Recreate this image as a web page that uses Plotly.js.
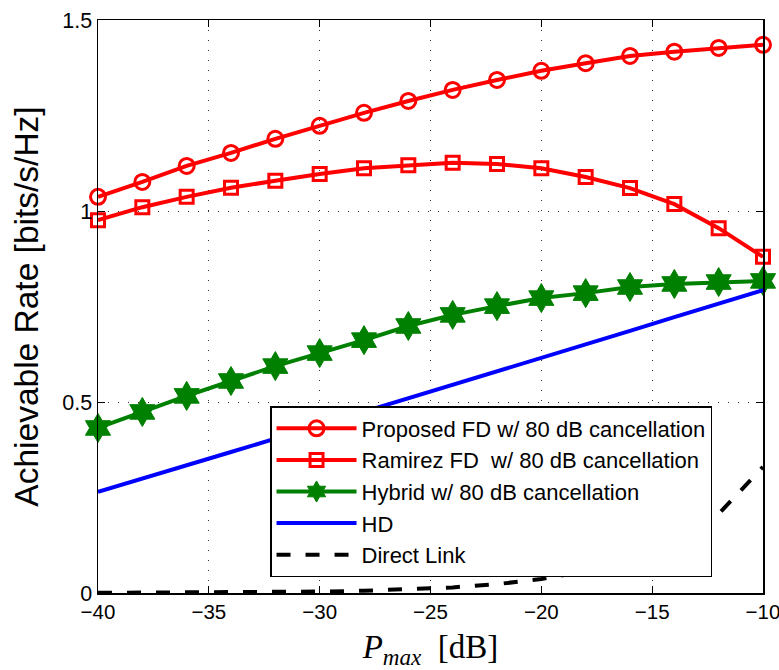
<!DOCTYPE html>
<html>
<head>
<meta charset="utf-8">
<script src="https://cdn.plot.ly/plotly-3.0.1.min.js"></script>
<style>html,body{margin:0;padding:0;background:#fff;}#chart{width:779px;height:670px;}</style>
</head>
<body>
<div id="chart"></div>
<script>
const pmax = [-40,-38,-36,-34,-32,-30,-28,-26,-24,-22,-20,-18,-16,-14,-12,-10];
const proposedFD = [1.037,1.076,1.118,1.152,1.189,1.223,1.257,1.288,1.317,1.343,1.367,1.387,1.406,1.417,1.427,1.435];
const ramirezFD = [0.976,1.010,1.037,1.061,1.079,1.097,1.112,1.120,1.126,1.123,1.112,1.089,1.060,1.018,0.955,0.880];
const hybrid = [0.432,0.474,0.516,0.555,0.594,0.628,0.662,0.699,0.728,0.751,0.772,0.785,0.801,0.809,0.814,0.817];
const hd = [0.265,0.299,0.334,0.369,0.404,0.439,0.474,0.510,0.545,0.580,0.615,0.651,0.686,0.722,0.757,0.793];
const directLink = [0.0004,0.0006,0.0009,0.0015,0.0023,0.0037,0.0059,0.0093,0.0147,0.0232,0.0365,0.0573,0.0893,0.137,0.207,0.33];
const names = ['Proposed FD w/ 80 dB cancellation','Ramirez FD&nbsp; w/ 80 dB cancellation','Hybrid w/ 80 dB cancellation','HD','Direct Link'];
const xTicks = [-40,-35,-30,-25,-20,-15,-10];
const xTickText = ['\u221240','\u221235','\u221230','\u221225','\u221220','\u221215','\u221210'];
const yTicks = [0,0.5,1,1.5];
const yTickText = ['0','0.5','1','1.5'];

const red = '#ff0000', green = '#008000', blue = '#0000ff';
const traces = [
  {x: pmax, y: proposedFD, name: names[0], mode: 'lines+markers', cliponaxis: false,
   line: {color: red, width: 4},
   marker: {symbol: 'circle-open', size: 15, color: red, line: {width: 3, color: red}}},
  {x: pmax, y: ramirezFD, name: names[1], mode: 'lines+markers', cliponaxis: false,
   line: {color: red, width: 4},
   marker: {symbol: 'square-open', size: 13, color: red, line: {width: 3, color: red}}},
  {x: pmax, y: hybrid, name: names[2], mode: 'lines+markers', cliponaxis: false,
   line: {color: green, width: 4},
   marker: {symbol: 'hexagram', size: 22, color: green, line: {width: 1, color: green}}},
  {x: pmax, y: hd, name: names[3], mode: 'lines', cliponaxis: false,
   line: {color: blue, width: 4}},
  {x: pmax, y: directLink, name: names[4], mode: 'lines', cliponaxis: false,
   line: {color: '#000', width: 4, dash: '14px,15px'}}
];
const font = {family: 'Liberation Sans, Arial, sans-serif', color: '#000'};
const layout = {
  width: 779, height: 670,
  margin: {l: 98, r: 16, t: 20, b: 77},
  paper_bgcolor: '#fff', plot_bgcolor: '#fff',
  font: Object.assign({size: 22}, font),
  showlegend: true,
  legend: {
    x: 0.259, y: 0.326, xanchor: 'left', yanchor: 'top',
    bgcolor: '#fff', bordercolor: '#000', borderwidth: 1.3,
    font: Object.assign({size: 22}, font),
    itemwidth: 80, tracegroupgap: 0
  },
  xaxis: {
    range: [-40, -10], tickmode: 'array', tickvals: xTicks, ticktext: xTickText,
    ticks: 'inside', ticklen: 7, tickcolor: '#000', tickwidth: 1,
    showline: true, linecolor: '#000', linewidth: 1.5, mirror: 'ticks',
    showgrid: true, gridcolor: '#333', griddash: '1px,9px', gridwidth: 1,
    zeroline: false, ticklabeloverflow: 'allow',
    tickfont: Object.assign({size: 20.5}, font),
    title: {text: '<i>P</i><sub><i>max</i></sub>  [dB]', standoff: 15,
            font: {family: 'Liberation Serif, DejaVu Serif, serif', size: 33, color: '#000'}}
  },
  yaxis: {
    range: [0, 1.5], tickmode: 'array', tickvals: yTicks, ticktext: yTickText,
    ticks: 'inside', ticklen: 7, tickcolor: '#000', tickwidth: 1,
    showline: true, linecolor: '#000', linewidth: 1.5, mirror: 'ticks',
    showgrid: true, gridcolor: '#333', griddash: '1px,9px', gridwidth: 1,
    zeroline: false, ticklabeloverflow: 'allow',
    tickfont: Object.assign({size: 21.5}, font),
    title: {text: 'Achievable Rate [bits/s/Hz]', standoff: 13,
            font: Object.assign({size: 33.5}, font)}
  }
};
Plotly.newPlot('chart', traces, layout, {displayModeBar: false, staticPlot: true});
</script>
</body>
</html>
